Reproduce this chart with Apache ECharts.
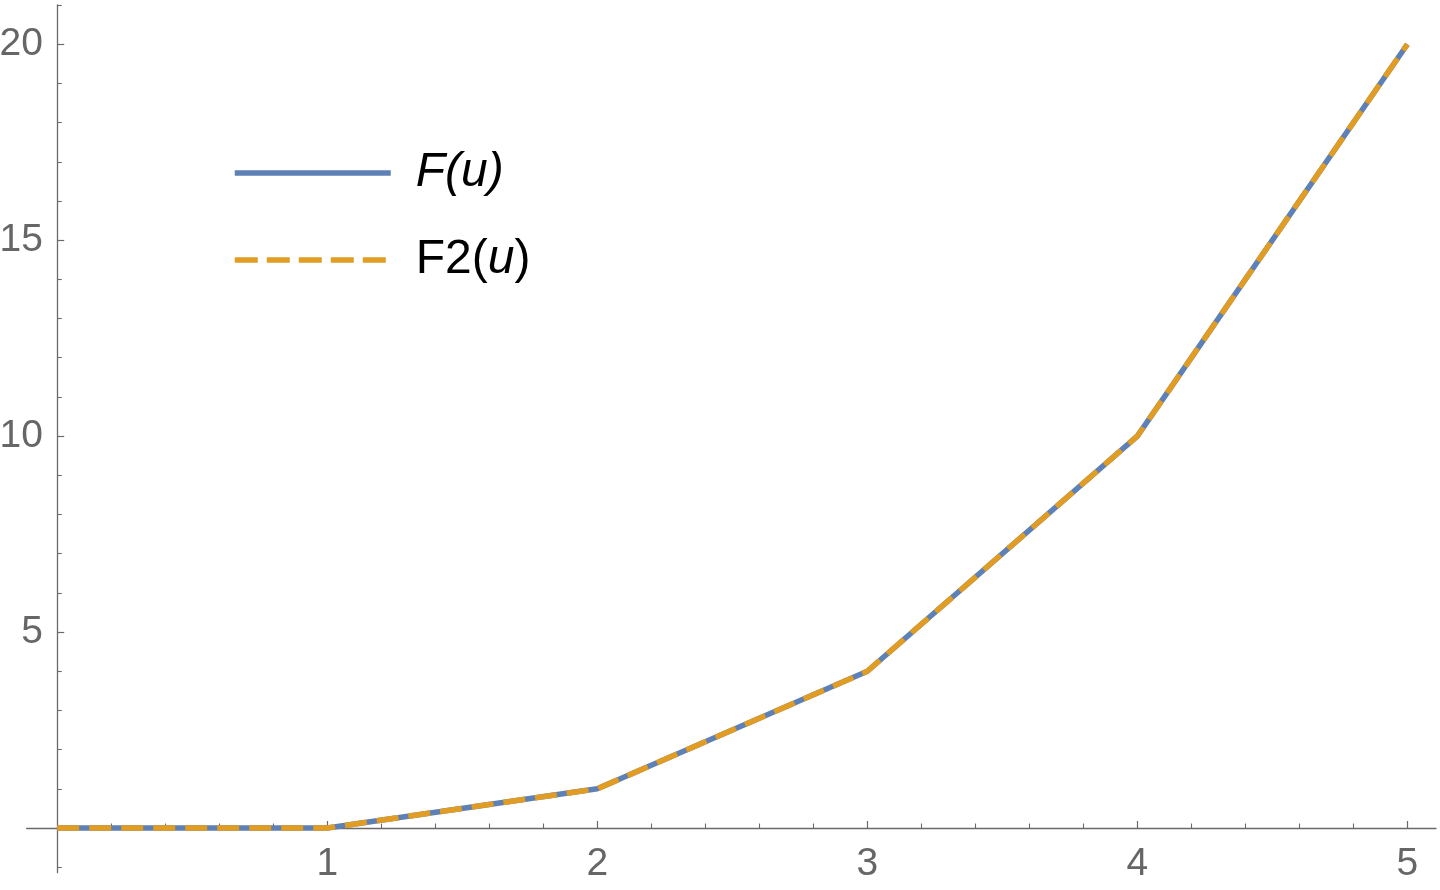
<!DOCTYPE html>
<html>
<head>
<meta charset="utf-8">
<script src="https://cdn.jsdelivr.net/npm/echarts@6/dist/echarts.min.js"></script>
<style>
  html, body { margin: 0; padding: 0; background: #fff; }
  #chart { width: 1440px; height: 890px; }
</style>
</head>
<body>
<div id="chart"></div>
<script>
// data
const uValues = [0, 1, 2, 3, 4, 5]
const fValues = [0, 0, 1, 4, 10, 20]
const f2Values = [0, 0, 1, 4, 10, 20]

// ticks and labels
const xMajor = [1, 2, 3, 4, 5]
const xMinor = [0.2, 0.4, 0.6, 0.8, 1.2, 1.4, 1.6, 1.8, 2.2, 2.4, 2.6, 2.8, 3.2, 3.4, 3.6, 3.8, 4.2, 4.4, 4.6, 4.8]
const yMajor = [5, 10, 15, 20]
const yMinor = [-1, 1, 2, 3, 4, 6, 7, 8, 9, 11, 12, 13, 14, 16, 17, 18, 19, 21]

const axisColor = '#6a6a6a'
const xRange = [-0.113, 5.106]
const yRange = [-1.14, 21.0]

const chart = echarts.init(document.getElementById('chart'))

function pairs(xs, ys) {
  return xs.map((x, i) => [x, ys[i]])
}

const option = {
  animation: false,
  backgroundColor: '#fff',
  grid: {
    left: 26.7,
    right: 4,
    top: 5,
    bottom: 17.3,
    containLabel: false,
    outerBoundsMode: 'none'
  },
  legend: {
    orient: 'vertical',
    left: 232,
    top: 149,
    padding: 0,
    itemWidth: 156,
    itemHeight: 10,
    itemGap: 39,
    data: [
      { name: 'F(u)', itemStyle: { opacity: 0 }, lineStyle: { width: 5.5, color: '#5E81B5' } },
      { name: 'F2(u)', itemStyle: { opacity: 0 }, lineStyle: { width: 5.5, color: '#E19C24', type: [23, 9] } }
    ],
    formatter: function (name) {
      if (name === 'F(u)') return '{i|F(u)}'
      return '{n|F2(}{i|u}{n|)}'
    },
    textStyle: {
      color: '#000',
      padding: [0, 0, 0, 20],
      rich: {
        i: { fontFamily: 'Liberation Sans', fontStyle: 'italic', fontSize: 48, lineHeight: 51, color: '#000' },
        n: { fontFamily: 'Liberation Sans', fontSize: 48, lineHeight: 51, color: '#000' }
      }
    }
  },
  xAxis: [
    {
      type: 'value',
      position: 'bottom',
      min: xRange[0],
      max: xRange[1],
      axisLine: { onZero: true, onZeroAxisIndex: 0, lineStyle: { color: axisColor, width: 1.3 } },
      axisTick: { show: true, inside: true, length: 7, customValues: xMajor, lineStyle: { color: axisColor, width: 1.2 } },
      axisLabel: { customValues: xMajor, fontFamily: 'Liberation Sans', fontSize: 39, color: '#666', margin: -28 },
      splitLine: { show: false }
    },
    {
      type: 'value',
      position: 'bottom',
      min: xRange[0],
      max: xRange[1],
      axisLine: { show: false, onZero: true, onZeroAxisIndex: 1 },
      axisTick: { show: true, inside: true, length: 4.5, customValues: xMinor, lineStyle: { color: axisColor, width: 1.1 } },
      axisLabel: { show: false },
      splitLine: { show: false }
    }
  ],
  yAxis: [
    {
      type: 'value',
      position: 'left',
      min: yRange[0],
      max: yRange[1],
      axisLine: { show: true, onZero: true, onZeroAxisIndex: 0, lineStyle: { color: axisColor, width: 1.3 } },
      axisTick: { show: true, inside: true, length: 7, customValues: yMajor, lineStyle: { color: axisColor, width: 1.2 } },
      axisLabel: { customValues: yMajor, fontFamily: 'Liberation Sans', fontSize: 39, color: '#666', margin: -16.3 },
      splitLine: { show: false }
    },
    {
      type: 'value',
      position: 'left',
      min: yRange[0],
      max: yRange[1],
      axisLine: { show: false, onZero: true, onZeroAxisIndex: 1 },
      axisTick: { show: true, inside: true, length: 4.5, customValues: yMinor, lineStyle: { color: axisColor, width: 1.1 } },
      axisLabel: { show: false },
      splitLine: { show: false }
    }
  ],
  series: [
    {
      name: 'F(u)',
      type: 'line',
      xAxisIndex: 0,
      yAxisIndex: 0,
      data: pairs(uValues, fValues),
      symbol: 'none',
      showSymbol: false,
      color: '#5E81B5',
      lineStyle: { color: '#5E81B5', width: 5.5 },
      z: 2
    },
    {
      name: 'F2(u)',
      type: 'line',
      xAxisIndex: 0,
      yAxisIndex: 0,
      data: pairs(uValues, f2Values),
      symbol: 'none',
      showSymbol: false,
      color: '#E19C24',
      lineStyle: { color: '#E19C24', width: 5.5, type: [22, 10] },
      z: 3
    }
  ]
}

chart.setOption(option)
</script>
</body>
</html>
